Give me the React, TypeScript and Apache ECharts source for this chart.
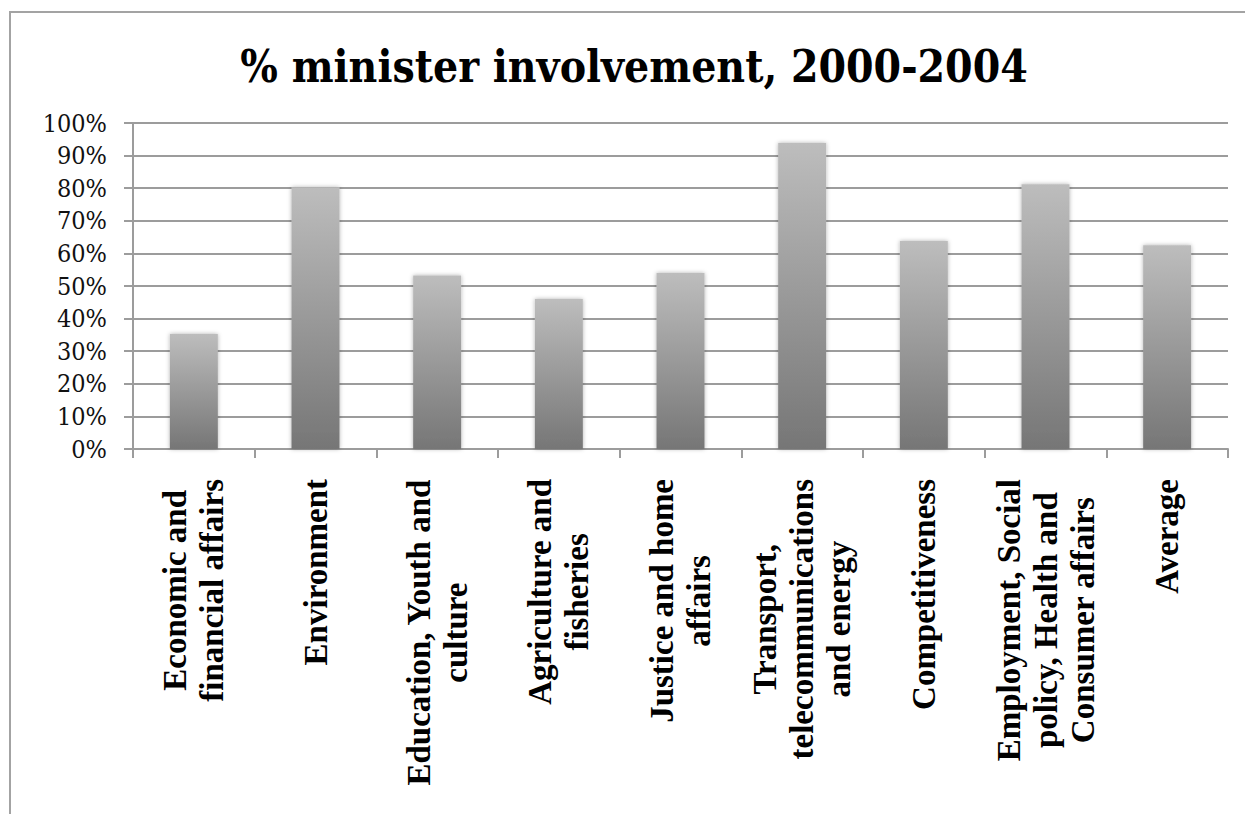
import React, { useEffect, useRef } from "react";
import * as echarts from "echarts";

const TITLE = "% minister involvement, 2000-2004";

const categories = [
  "Economic and\nfinancial affairs",
  "Environment",
  "Education, Youth and\nculture",
  "Agriculture and\nfisheries",
  "Justice and home\naffairs",
  "Transport,\ntelecommunications\nand energy",
  "Competitiveness",
  "Employment, Social\npolicy, Health and\nConsumer affairs",
  "Average",
];

const involvement = [35.3, 80.3, 53.2, 46.0, 54.0, 93.9, 63.8, 81.2, 62.5];

const yTicks = { min: 0, max: 100, interval: 10 };

export default function App() {
  const ref = useRef<HTMLDivElement>(null);

  useEffect(() => {
    if (!ref.current) return;
    const chart = echarts.init(ref.current, undefined, { renderer: "svg" });
    const gridColor = "#9c9c9c";
    const xFont = "'Liberation Serif', 'Times New Roman', serif";
    chart.setOption({
      animation: false,
      backgroundColor: "#ffffff",
      graphic: [
        {
          type: "rect",
          shape: { x: 10, y: 12, width: 1400, height: 1000 },
          style: { fill: "none", stroke: "#a3a3a3", lineWidth: 2 },
          silent: true,
        },
        {
          type: "text",
          x: 634,
          y: 66,
          style: {
            text: TITLE,
            fontFamily: "'DejaVu Serif Condensed', 'DejaVu Serif', serif",
            fontWeight: "bold",
            fontSize: 44,
            fill: "#000",
            align: "center",
            verticalAlign: "middle",
          },
        },
      ],
      grid: {
        left: 133,
        right: 17,
        top: 123,
        bottom: 365,
        outerBoundsMode: "none",
        containLabel: false,
      },
      xAxis: {
        type: "category",
        data: categories,
        axisLine: { show: true, lineStyle: { color: gridColor, width: 2 } },
        axisTick: { show: true, length: 9, lineStyle: { color: gridColor, width: 2 } },
        axisLabel: {
          interval: 0,
          rotate: 90,
          margin: 30,
          color: "#000",
          fontFamily: xFont,
          fontWeight: "bold",
          fontSize: 33,
          lineHeight: 37,
          formatter: (v: string) =>
            v
              .split("\n")
              .map((l) => `{c|${l}}`)
              .join("\n"),
          rich: {
            c: {
              align: "center",
              fontFamily: xFont,
              fontWeight: "bold",
              fontSize: 33,
              lineHeight: 37,
              color: "#000",
            },
          },
        },
      },
      yAxis: {
        type: "value",
        min: yTicks.min,
        max: yTicks.max,
        interval: yTicks.interval,
        axisLine: { show: true, lineStyle: { color: gridColor, width: 2 } },
        axisTick: { show: true, length: 9, lineStyle: { color: gridColor, width: 2 } },
        splitLine: { show: true, lineStyle: { color: gridColor, width: 2 } },
        axisLabel: {
          margin: 26,
          color: "#111",
          fontFamily: "'DejaVu Serif Condensed', 'DejaVu Serif', serif",
          fontSize: 25,
          formatter: "{value}%",
        },
      },
      series: [
        {
          type: "bar",
          data: involvement,
          barWidth: 48,
          itemStyle: {
            color: new echarts.graphic.LinearGradient(0, 0, 0, 1, [
              { offset: 0, color: "#bdbdbd" },
              { offset: 1, color: "#767676" },
            ]),
            shadowBlur: 4,
            shadowColor: "rgba(0,0,0,0.3)",
          },
        },
      ],
    });
    return () => chart.dispose();
  }, []);

  return (
    <div
      ref={ref}
      style={{ position: "fixed", left: 0, top: 0, width: 1245, height: 814 }}
    />
  );
}
